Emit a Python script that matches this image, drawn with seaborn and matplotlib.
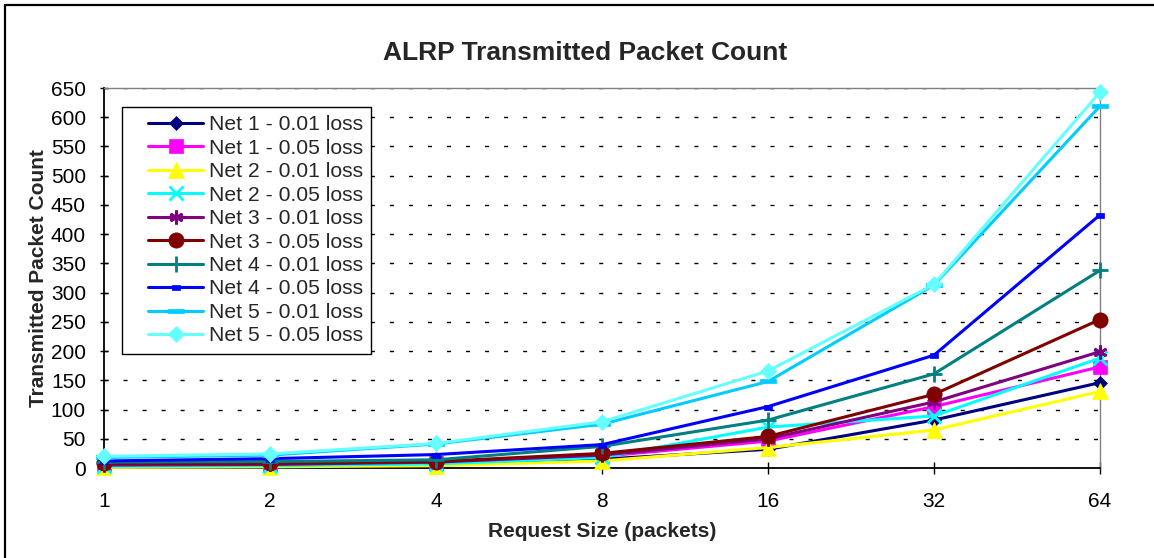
import matplotlib
matplotlib.use("Agg")
import matplotlib.pyplot as plt
import seaborn as sns
import pandas as pd
from matplotlib.lines import Line2D
from matplotlib.legend_handler import HandlerLine2D

# ---------------- data ----------------
request_sizes = [1, 2, 4, 8, 16, 32, 64]
series_names = [
    "Net 1 - 0.01 loss", "Net 1 - 0.05 loss",
    "Net 2 - 0.01 loss", "Net 2 - 0.05 loss",
    "Net 3 - 0.01 loss", "Net 3 - 0.05 loss",
    "Net 4 - 0.01 loss", "Net 4 - 0.05 loss",
    "Net 5 - 0.01 loss", "Net 5 - 0.05 loss",
]
net1_001 = [2, 3, 5, 15, 32, 82, 146]
net1_005 = [4, 5, 8, 20, 46, 105, 173]
net2_001 = [1, 2, 4, 12, 35, 65, 131]
net2_005 = [3, 4, 7, 18, 70, 89, 188]
net3_001 = [5, 6, 10, 22, 50, 113, 199]
net3_005 = [8, 8, 11, 25, 54, 126, 254]
net4_001 = [10, 11, 14, 37, 82, 161, 338]
net4_005 = [12, 16, 23, 40, 105, 193, 433]
net5_001 = [18, 22, 41, 75, 148, 313, 619]
net5_005 = [20, 24, 42, 79, 166, 314, 643]
all_values = [net1_001, net1_005, net2_001, net2_005, net3_001,
              net3_005, net4_001, net4_005, net5_001, net5_005]
y_ticks = list(range(0, 651, 50))

# ---------------- styles ----------------
colors = ["#000080", "#FF00FF", "#FFFF00", "#00FFFF", "#800080",
          "#800000", "#008080", "#0000FF", "#00CCFF", "#66FFFF"]
small_rect = [(-1, -0.6), (1, -0.6), (1, 0.6), (-1, 0.6), (-1, -0.6)]
wide_rect = [(-1, -0.3), (1, -0.3), (1, 0.3), (-1, 0.3), (-1, -0.3)]
markers = ["D", "s", "^", "x", (6, 2, 0), "o", "+", small_rect, wide_rect, "D"]
msizes = [7.5, 10, 11, 10, 10, 11, 11, 6, 11.5, 8]

sns.set_style("white")
plt.rcParams["font.family"] = ["Liberation Sans", "DejaVu Sans"]

fig = plt.figure(figsize=(11.54, 5.58), dpi=100)
ax = fig.add_axes([104 / 1154, 1 - 468 / 558, 996 / 1154, 380 / 558])

df = pd.DataFrame({
    "size": request_sizes * len(series_names),
    "count": [v for vals in all_values for v in vals],
    "series": [n for n in series_names for _ in request_sizes],
})

for name, col, mk, ms in zip(series_names, colors, markers, msizes):
    sub = df[df["series"] == name]
    thin = mk in ("x", "+") or isinstance(mk, tuple)
    sns.lineplot(data=sub, x="size", y="count", ax=ax, color=col, marker=mk,
                 markersize=ms, markeredgewidth=2 if thin else 0.5,
                 markeredgecolor=col, markerfacecolor=col, linewidth=2.2,
                 label=name, clip_on=False, zorder=3)

ax.set_xscale("log", base=2)
ax.set_xlim(1, 64)
ax.set_ylim(0, 650)
ax.set_xticks(request_sizes)
ax.set_xticklabels([str(s) for s in request_sizes])
ax.minorticks_off()
ax.set_yticks(y_ticks)
ax.set_yticklabels([str(t) for t in y_ticks])

ax.yaxis.grid(True, color="black", linestyle=(0, (2.9, 10.8)), linewidth=1)
ax.xaxis.grid(False)
ax.set_axisbelow(True)

ax.tick_params(axis="y", direction="inout", length=6, width=1, labelsize=15,
               pad=10, colors="black", left=True)
ax.tick_params(axis="x", direction="inout", length=9, width=1, labelsize=15,
               pad=13, colors="black", bottom=True)
for s in ["left", "bottom"]:
    ax.spines[s].set_color("black")
    ax.spines[s].set_linewidth(1.3)
for s in ["top", "right"]:
    ax.spines[s].set_color("#808080")
    ax.spines[s].set_linewidth(1)

ax.set_xlabel("Request Size (packets)", fontsize=15, fontweight="bold", labelpad=8)
ax.set_ylabel("Transmitted Packet Count", fontsize=15, fontweight="bold", labelpad=2)
fig.text(585 / 1154, 1 - 53 / 558, "ALRP Transmitted Packet Count",
         fontsize=19, fontweight="bold", ha="center", va="center")

leg = ax.legend(loc="upper left", bbox_to_anchor=(18 / 996, 361 / 380),
                borderaxespad=0, fontsize=15.2, frameon=True, fancybox=False,
                edgecolor="black", handlelength=3.46, handletextpad=0.25,
                labelspacing=0.21, borderpad=0.4,
                handler_map={Line2D: HandlerLine2D(xpad=0.85)})
leg.get_frame().set_linewidth(1)
leg.get_frame().set_alpha(1)

# outer chart border (left and top visible, rest cut off)
fig.add_artist(Line2D([5 / 1154, 5 / 1154], [0, 1 - 5 / 558], transform=fig.transFigure,
                      color="black", linewidth=1.6))
fig.add_artist(Line2D([5 / 1154, 1], [1 - 5 / 558, 1 - 5 / 558], transform=fig.transFigure,
                      color="black", linewidth=1.6))

fig.savefig("out.png", dpi=100)
